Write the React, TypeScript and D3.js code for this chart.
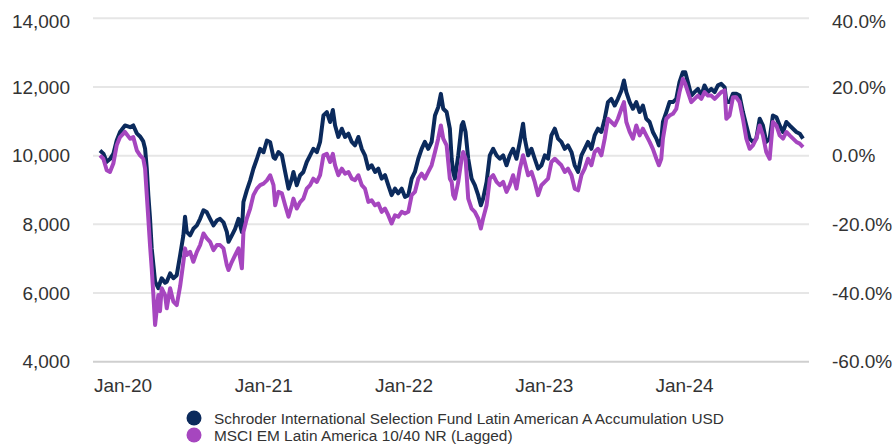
import React, { useEffect, useRef } from 'react';
import * as d3 from 'd3';

const fundName = 'Schroder International Selection Fund Latin American A Accumulation USD';
const indexName = 'MSCI EM Latin America 10/40 NR (Lagged)';

// dates as decimal years
const years = [
  2019.836, 2019.86, 2019.884, 2019.907, 2019.931, 2019.955, 2019.979, 2020.014, 2020.05, 2020.073,
  2020.098, 2020.121, 2020.144, 2020.157, 2020.169, 2020.18, 2020.192, 2020.204, 2020.216, 2020.228,
  2020.251, 2020.263, 2020.275, 2020.299, 2020.311, 2020.335, 2020.358, 2020.382, 2020.406, 2020.429,
  2020.441, 2020.453, 2020.477, 2020.5, 2020.525, 2020.548, 2020.572, 2020.596, 2020.619, 2020.643,
  2020.667, 2020.69, 2020.714, 2020.738, 2020.75, 2020.774, 2020.797, 2020.821, 2020.845, 2020.856,
  2020.88, 2020.904, 2020.927, 2020.952, 2020.975, 2020.999, 2021.023, 2021.046, 2021.07,
  2021.082, 2021.105, 2021.13, 2021.153, 2021.177, 2021.201, 2021.212, 2021.236, 2021.26, 2021.283,
  2021.307, 2021.331, 2021.354, 2021.379, 2021.402, 2021.426, 2021.45, 2021.473, 2021.493, 2021.509,
  2021.532, 2021.557, 2021.58, 2021.604, 2021.628, 2021.651, 2021.675, 2021.699, 2021.722, 2021.746,
  2021.77, 2021.794, 2021.817, 2021.841, 2021.865, 2021.888, 2021.912, 2021.936, 2021.959, 2021.984,
  2022.007, 2022.031, 2022.055, 2022.078, 2022.102, 2022.126, 2022.149, 2022.173, 2022.197, 2022.221,
  2022.244, 2022.263, 2022.28, 2022.304, 2022.327,
  2022.34, 2022.351, 2022.363, 2022.387, 2022.411, 2022.422, 2022.439, 2022.458, 2022.482, 2022.505,
  2022.529, 2022.548, 2022.564, 2022.589, 2022.612, 2022.636, 2022.66, 2022.683, 2022.707, 2022.731,
  2022.754, 2022.778, 2022.802, 2022.826, 2022.849, 2022.861, 2022.885, 2022.909, 2022.932, 2022.956,
  2022.98, 2023.004, 2023.027, 2023.051, 2023.075, 2023.098, 2023.122, 2023.146, 2023.169, 2023.194,
  2023.217, 2023.241, 2023.265, 2023.288, 2023.312, 2023.336, 2023.359, 2023.383, 2023.407, 2023.431,
  2023.454, 2023.478, 2023.502, 2023.525, 2023.55, 2023.568,
  2023.585, 2023.609, 2023.632, 2023.656, 2023.68, 2023.703, 2023.727, 2023.751, 2023.774, 2023.799,
  2023.817, 2023.834, 2023.846, 2023.87, 2023.893, 2023.917, 2023.941, 2023.964, 2023.988, 2024.005,
  2024.024, 2024.048, 2024.071, 2024.095, 2024.119, 2024.142, 2024.166, 2024.19, 2024.214, 2024.237,
  2024.261, 2024.285, 2024.297, 2024.32, 2024.344, 2024.368, 2024.391, 2024.415, 2024.439, 2024.463,
  2024.486, 2024.51, 2024.534, 2024.557, 2024.581, 2024.605, 2024.628, 2024.653, 2024.676, 2024.7,
  2024.724, 2024.747, 2024.771, 2024.795, 2024.819, 2024.842,
];

const fundValues = [
  10150, 10060, 9820, 9900, 10050, 10445, 10690, 10880, 10830, 10880,
  10650, 10560, 10415, 10200, 9620, 8850, 8170, 7300, 6815, 6330,
  6140, 6300, 6430, 6300, 6330, 6570, 6430, 6520, 7100, 7680,
  8220, 7780, 7680, 7870, 7970, 8160, 8410, 8350, 8160, 7970,
  8110, 8160, 8060, 7780, 7490, 7680, 7870, 8160, 7780, 8650,
  8990, 9280, 9620, 9910, 10200, 10100, 10440, 10390, 9950,
  9910, 10105, 10010, 9525, 9040, 9330, 9525, 9140, 9430, 9525,
  9815, 10010, 10200, 10105, 10400, 11170, 11270, 10980, 11330, 10880,
  10545, 10785, 10545, 10640, 10400, 10300, 10545, 10200, 10010, 9620,
  9720, 9525, 9620, 9330, 9430, 9140, 8850, 9040, 8900, 9040,
  8800, 8850, 9330, 9525, 9910, 10200, 10400, 10200, 10400, 11170,
  11410, 11800, 11365, 11270, 10785,
  9910, 9525, 9330, 10010, 10880, 10980, 10690, 9910, 9330, 9140,
  8850, 8555, 8750, 9235, 10010, 10200, 10010, 9910, 10010, 9720,
  10010, 10200, 9910, 10400, 10930, 10495, 10010, 10200, 9910, 9620,
  9720, 10010, 9910, 10590, 10785, 10495, 10400, 10200, 10300, 10105,
  9720, 9525, 10010, 10200, 10400, 10200, 10590, 10785, 10690, 11075,
  11560, 11655, 11460, 11655, 11900, 12190,
  11850, 11560, 11365, 11560, 11270, 11460, 11075, 10980, 10690, 10495,
  10300, 10495, 10980, 11270, 11560, 11560, 11655, 12140, 12430, 12430,
  12140, 11750, 11850, 11945, 11750, 12045, 11850, 11945, 11850, 12045,
  12090, 11990, 11560, 11560, 11800, 11800, 11750, 11270, 10880, 10495,
  10400, 10495, 11075, 10880, 10400, 10495, 11170, 11120, 10880, 10690,
  10980, 10880, 10785, 10690, 10640, 10495,
];

const indexValues = [
  10010, 9910, 9575, 9525, 9770, 10300, 10540, 10690, 10495, 10540,
  10155, 10010, 9910, 9620, 8850, 8170, 7395, 6720, 5940, 5070,
  5940, 5470, 6140, 5940, 5555, 6140, 5750, 5650, 6200, 6900,
  7300, 7105, 7200, 6910, 7200, 7395, 7735, 7590, 7490, 7250,
  7395, 7395, 7300, 6815, 6670, 6910, 7105, 7300, 6720, 7780,
  8170, 8460, 8850, 9040, 9140, 9185, 9280, 9430, 9140,
  8555, 8945, 8900, 8555, 8220, 8555, 8750, 8460, 8650, 8750,
  9040, 9140, 9330, 9235, 9430, 10010, 10055, 9815, 10055, 9720,
  9430, 9620, 9475, 9525, 9330, 9285, 9430, 9140, 9040, 8655,
  8700, 8555, 8605, 8365, 8460, 8265, 8025, 8265, 8220, 8365,
  8315, 8365, 8850, 8945, 9330, 9475, 9330, 9525, 9720, 10105,
  10495, 10880, 10495, 10300, 9330,
  9235, 8850, 8750, 9235, 9910, 10105, 9910, 8750, 8460, 8365,
  8170, 7880, 8170, 8555, 9330, 9430, 9235, 9140, 9235, 8945,
  9140, 9430, 9040, 9620, 10010, 9815, 9430, 9525, 9235, 8850,
  9140, 9235, 9330, 9815, 9910, 9815, 9720, 9525, 9620, 9430,
  9040, 8990, 9430, 9620, 9910, 9720, 10105, 10200, 10010, 10495,
  11075, 10980, 10880, 11075, 11365, 11560,
  10980, 10690, 10495, 10880, 10590, 10785, 10590, 10400, 10200, 9910,
  9720, 9910, 10495, 11075, 11170, 11220, 11365, 11850, 12235, 12090,
  11850, 11560, 11655, 11750, 11655, 11850, 11750, 11750, 11655, 11750,
  11850, 11900, 11075, 11170, 11700, 11700, 11560, 11075, 10495, 10200,
  10300, 10495, 10880, 10590, 10105, 9910, 10980, 10880, 10590, 10495,
  10690, 10590, 10495, 10400, 10350, 10250,
];

const leftTicks = [4000, 6000, 8000, 10000, 12000, 14000];
const rightTicks = [-0.6, -0.4, -0.2, 0, 0.2, 0.4];
const xTickYears = [2020, 2021, 2022, 2023, 2024];

const fundColor = '#0b2a5c';
const indexColor = '#a646bf';

const toDate = (y: number) => {
  const whole = Math.floor(y);
  const start = Date.UTC(whole, 0, 1);
  const end = Date.UTC(whole + 1, 0, 1);
  return new Date(start + (y - whole) * (end - start));
};

interface Point {
  date: Date;
  value: number;
}

const PerformanceChart: React.FC = () => {
  const svgRef = useRef<SVGSVGElement>(null);
  const width = 895;
  const height = 445;

  useEffect(() => {
    if (!svgRef.current) return;
    const svg = d3.select(svgRef.current);
    svg.selectAll('*').remove();

    const font = '"Liberation Sans", Arial, sans-serif';
    const textColor = '#333333';
    const gridLeft = 93;
    const gridRight = 809;

    const fund: Point[] = years.map((y, i) => ({ date: toDate(y), value: fundValues[i] }));
    const index: Point[] = years.map((y, i) => ({ date: toDate(y), value: indexValues[i] }));

    const xScale = d3
      .scaleUtc()
      .domain([toDate(years[0]), toDate(years[years.length - 1])])
      .range([100, 803]);

    const yScale = d3.scaleLinear().domain([4000, 14000]).range([361.7, 18.3]);
    const yRight = d3.scaleLinear().domain([-0.6, 0.4]).range([361.7, 18.3]);

    // grid lines
    svg.append('g')
      .selectAll('line')
      .data(leftTicks)
      .enter()
      .append('line')
      .attr('x1', gridLeft)
      .attr('x2', gridRight)
      .attr('y1', (d) => yScale(d))
      .attr('y2', (d) => yScale(d))
      .attr('stroke', (d) => (d === 4000 ? '#cfcfcf' : '#e6e6e6'))
      .attr('stroke-width', 2);

    // left axis labels
    svg.append('g')
      .selectAll('text')
      .data(leftTicks)
      .enter()
      .append('text')
      .attr('x', 70)
      .attr('y', (d) => Math.max(yScale(d), 21.5))
      .attr('dy', '0.35em')
      .attr('text-anchor', 'end')
      .style('font-family', font)
      .style('font-size', '19px')
      .attr('fill', textColor)
      .text((d) => d3.format(',')(d));

    // right axis labels
    svg.append('g')
      .selectAll('text')
      .data(rightTicks)
      .enter()
      .append('text')
      .attr('x', 832)
      .attr('y', (d) => Math.max(yRight(d), 21.5))
      .attr('dy', '0.35em')
      .attr('text-anchor', 'start')
      .style('font-family', font)
      .style('font-size', '19px')
      .attr('fill', textColor)
      .text((d) => d3.format('.1%')(d).replace('−', '-'));

    // x axis labels
    svg.append('g')
      .selectAll('text')
      .data(xTickYears)
      .enter()
      .append('text')
      .attr('x', (d) => xScale(toDate(d)))
      .attr('y', 392)
      .attr('text-anchor', 'middle')
      .style('font-family', font)
      .style('font-size', '19px')
      .attr('fill', textColor)
      .text((d) => `Jan-${String(d).slice(2)}`);

    const line = d3
      .line<Point>()
      .x((d) => xScale(d.date))
      .y((d) => yScale(d.value));

    svg.append('path')
      .datum(fund)
      .attr('fill', 'none')
      .attr('stroke', fundColor)
      .attr('stroke-width', 4)
      .attr('stroke-linejoin', 'round')
      .attr('d', line);

    svg.append('path')
      .datum(index)
      .attr('fill', 'none')
      .attr('stroke', indexColor)
      .attr('stroke-width', 4)
      .attr('stroke-linejoin', 'round')
      .attr('d', line);

    // legend
    const legendItems = [
      { name: fundName, color: fundColor },
      { name: indexName, color: indexColor },
    ];
    const legend = svg.append('g').attr('transform', 'translate(194, 418)');
    legendItems.forEach((item, i) => {
      legend.append('circle')
        .attr('cx', 0)
        .attr('cy', i * 17)
        .attr('r', 7.5)
        .attr('fill', item.color);
      legend.append('text')
        .attr('x', 20)
        .attr('y', i * 17 + 5.5)
        .style('font-family', font)
        .style('font-size', '15.4px')
        .attr('fill', textColor)
        .text(item.name);
    });
  }, []);

  return (
    <svg
      ref={svgRef}
      width={width}
      height={height}
      style={{ position: 'absolute', left: 0, top: 0, background: '#ffffff' }}
    />
  );
};

export default function App() {
  return <PerformanceChart />;
}
